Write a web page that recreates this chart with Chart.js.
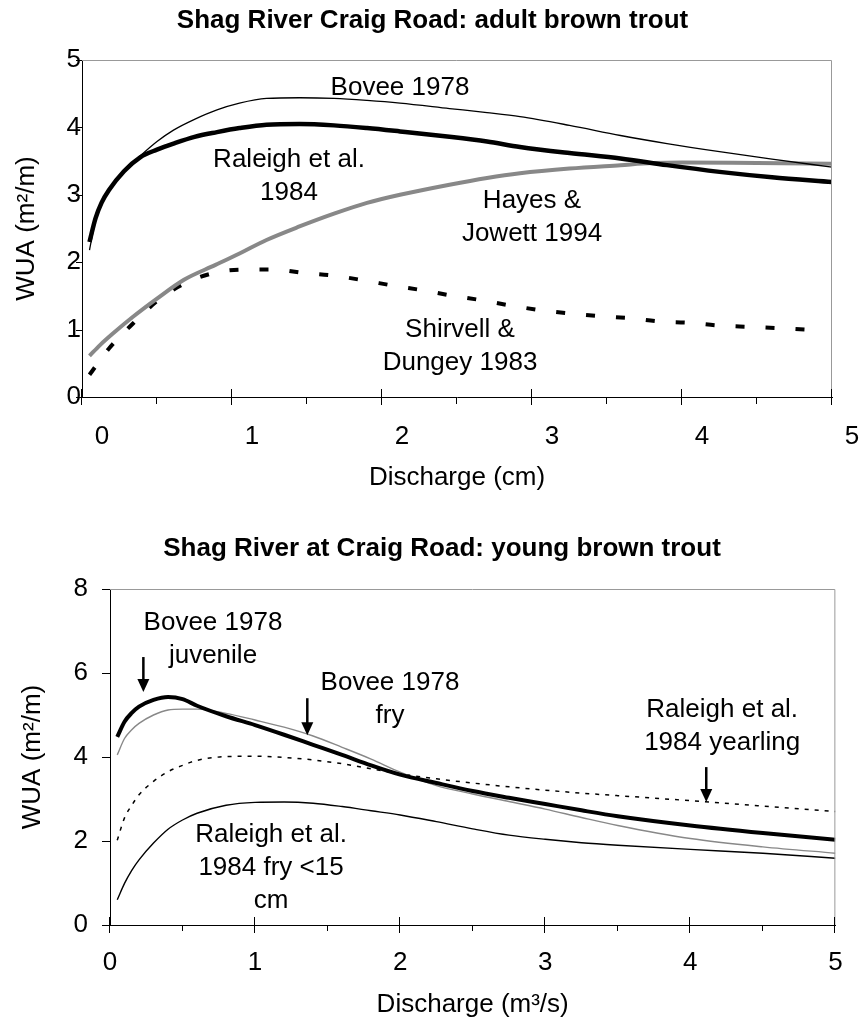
<!DOCTYPE html>
<html>
<head>
<meta charset="utf-8">
<script src="https://cdn.jsdelivr.net/npm/chart.js@4.4.0/dist/chart.umd.min.js"></script>
<style>
  body { margin: 0; background: #fff; }
  .box { position: absolute; left: 0; width: 865px; }
</style>
</head>
<body>
<div class="box" style="top:0;height:510px"><canvas id="adultChart"></canvas></div>
<div class="box" style="top:510px;height:513px"><canvas id="youngChart"></canvas></div>
<script>
// adult brown trout, WUA (m2/m) against discharge
let adultQ = [0.05, 0.09, 0.13, 0.18, 0.28, 0.39, 0.5, 0.61, 0.75, 0.9, 1.05, 1.23, 1.45, 1.68, 1.9, 2.12, 2.45, 2.7, 2.92, 3.25, 3.59, 3.9, 4.25, 4.6, 5.0];
let boveeAdult = [2.18, 2.62, 2.88, 3.07, 3.35, 3.58, 3.79, 3.96, 4.12, 4.26, 4.36, 4.43, 4.44, 4.43, 4.40, 4.36, 4.28, 4.22, 4.16, 4.03, 3.88, 3.76, 3.64, 3.53, 3.41];
let raleighAdult = [2.30, 2.65, 2.88, 3.07, 3.35, 3.56, 3.67, 3.76, 3.86, 3.93, 3.99, 4.04, 4.05, 4.03, 3.99, 3.94, 3.86, 3.79, 3.71, 3.62, 3.54, 3.44, 3.34, 3.26, 3.19];
let hayesQ = [0.05, 0.12, 0.2, 0.34, 0.5, 0.68, 0.89, 1.05, 1.23, 1.45, 1.68, 1.9, 2.12, 2.45, 2.7, 2.92, 3.25, 3.59, 3.8, 4.0, 4.5, 5.0];
let hayesAdult = [0.61, 0.77, 0.93, 1.19, 1.46, 1.74, 1.96, 2.13, 2.33, 2.53, 2.72, 2.88, 3.00, 3.15, 3.25, 3.32, 3.39, 3.44, 3.47, 3.48, 3.47, 3.46];
let shirvellQ = [0.05, 0.18, 0.34, 0.51, 0.68, 0.88, 1.08, 1.28, 1.48, 1.68, 1.88, 2.08, 2.28, 2.45, 2.65, 2.85, 3.05, 3.25, 3.45, 3.65, 3.85, 4.05, 4.25, 4.45, 4.65, 4.9];
let shirvellAdult = [0.33, 0.72, 1.09, 1.44, 1.68, 1.84, 1.89, 1.89, 1.84, 1.80, 1.73, 1.65, 1.58, 1.51, 1.44, 1.36, 1.29, 1.24, 1.20, 1.17, 1.12, 1.10, 1.06, 1.04, 1.02, 0.99];
let adultXTicks = [0, 1, 2, 3, 4, 5];
let adultYTicks = [0, 1, 2, 3, 4, 5];

// young brown trout
let youngQ = [0.05, 0.1, 0.15, 0.2, 0.3, 0.4, 0.5, 0.6, 0.8, 1.0, 1.2, 1.4, 1.6, 1.8, 2.0, 2.25, 2.5, 2.75, 3.0, 3.25, 3.5, 4.0, 4.5, 5.0];
let boveeJuvenile = [4.48, 4.84, 5.05, 5.20, 5.36, 5.43, 5.38, 5.22, 4.97, 4.76, 4.53, 4.29, 4.05, 3.80, 3.58, 3.38, 3.19, 3.03, 2.88, 2.73, 2.59, 2.37, 2.19, 2.03];
let boveeFry = [4.05, 4.44, 4.65, 4.80, 5.00, 5.12, 5.14, 5.14, 5.04, 4.88, 4.71, 4.50, 4.23, 3.95, 3.64, 3.32, 3.12, 2.94, 2.76, 2.56, 2.37, 2.06, 1.86, 1.71];
let raleighYearling = [2.02, 2.55, 2.85, 3.10, 3.42, 3.65, 3.80, 3.92, 4.01, 4.02, 3.99, 3.93, 3.84, 3.72, 3.60, 3.48, 3.38, 3.29, 3.21, 3.14, 3.08, 2.96, 2.83, 2.70];
let raleighFry = [0.60, 0.99, 1.30, 1.55, 1.95, 2.28, 2.50, 2.66, 2.85, 2.92, 2.93, 2.90, 2.82, 2.72, 2.62, 2.46, 2.29, 2.14, 2.04, 1.96, 1.90, 1.80, 1.71, 1.59];
let youngXTicks = [0, 1, 2, 3, 4, 5];
let youngYTicks = [0, 2, 4, 6, 8];

Chart.defaults.font.family = '"Liberation Sans", Arial, sans-serif';
Chart.defaults.font.size = 26;
Chart.defaults.color = '#000';

function pts(xs, ys) {
	return xs.map((x, i) => ({x: x, y: ys[i]}));
}

// gray top/right frame plus the tick marks (major ones cross the x axis)
const frame = {
	id: 'frame',
	afterDraw(chart, args, o) {
		const {ctx, chartArea: a, scales: {x, y}} = chart;
		ctx.save();
		ctx.lineWidth = 1;
		ctx.strokeStyle = '#999';
		ctx.beginPath();
		ctx.moveTo(a.left, a.top + 0.5);
		ctx.lineTo(a.right - 0.5, a.top + 0.5);
		ctx.lineTo(a.right - 0.5, a.bottom);
		ctx.stroke();
		ctx.strokeStyle = '#000';
		ctx.beginPath();
		for (let v = x.min; v <= x.max + 1e-9; v += 0.5) {
			const px = Math.round(x.getPixelForValue(v)) - 0.5;
			const major = Math.abs(v - Math.round(v)) < 1e-9;
			ctx.moveTo(px, a.bottom - (major ? o.majorUp : 0));
			ctx.lineTo(px, a.bottom + (major ? o.majorDown : o.minorDown));
		}
		y.ticks.forEach(t => {
			const py = Math.round(y.getPixelForValue(t.value)) + 0.5;
			ctx.moveTo(a.left - o.yTick, py);
			ctx.lineTo(a.left, py);
		});
		ctx.stroke();
		ctx.restore();
	}
};

// curve names written on the plot, and the arrows
const notes = {
	id: 'notes',
	afterDatasetsDraw(chart, args, o) {
		const {ctx, scales: {x, y}} = chart;
		ctx.save();
		ctx.fillStyle = '#000';
		ctx.strokeStyle = '#000';
		ctx.font = '26px "Liberation Sans", Arial, sans-serif';
		ctx.textAlign = 'center';
		ctx.textBaseline = 'middle';
		o.labels.forEach(l => {
			const px = x.getPixelForValue(l.x), py = y.getPixelForValue(l.y);
			l.lines.forEach((s, i) => ctx.fillText(s, px, py + i * o.lineGap));
		});
		(o.arrows || []).forEach(ar => {
			const px = x.getPixelForValue(ar.x);
			const top = y.getPixelForValue(ar.from), tip = y.getPixelForValue(ar.to);
			ctx.lineWidth = 2.5;
			ctx.beginPath();
			ctx.moveTo(px, top);
			ctx.lineTo(px, tip - 10);
			ctx.stroke();
			ctx.beginPath();
			ctx.moveTo(px - 6, tip - 13);
			ctx.lineTo(px + 6, tip - 13);
			ctx.lineTo(px, tip);
			ctx.closePath();
			ctx.fill();
		});
		ctx.restore();
	}
};

let chart1 = new Chart(document.getElementById('adultChart'), {
	type: 'line',
	data: {
		datasets: [
			{label: 'Bovee 1978', data: pts(adultQ, boveeAdult), borderColor: '#000', borderWidth: 1.3},
			{label: 'Raleigh et al. 1984', data: pts(adultQ, raleighAdult), borderColor: '#000', borderWidth: 4.5},
			{label: 'Hayes & Jowett 1994', data: pts(hayesQ, hayesAdult), borderColor: '#888', borderWidth: 4},
			{label: 'Shirvell & Dungey 1983', data: pts(shirvellQ, shirvellAdult), borderColor: '#000', borderWidth: 4, borderDash: [9, 21]}
		]
	},
	options: {
		responsive: true,
		maintainAspectRatio: false,
		animation: false,
		layout: {padding: {left: 33, right: 33, top: 0, bottom: 0}},
		elements: {
			point: {radius: 0},
			line: {tension: 0.4, cubicInterpolationMode: 'monotone', fill: false}
		},
		plugins: {
			legend: {display: false},
			tooltip: {enabled: false},
			title: {
				display: true,
				text: 'Shag River Craig Road: adult brown trout',
				font: {size: 26, weight: 'bold'},
				color: '#000',
				padding: {top: 5, bottom: 23.8}
			},
			frame: {majorUp: 8, majorDown: 8, minorDown: 7, yTick: 6},
			notes: {
				lineGap: 33,
				labels: [
					{x: 2.12, y: 4.58, lines: ['Bovee 1978']},
					{x: 1.38, y: 3.52, lines: ['Raleigh et al.', '1984']},
					{x: 3.0, y: 2.91, lines: ['Hayes &', 'Jowett 1994']},
					{x: 2.52, y: 0.99, lines: ['Shirvell &', 'Dungey 1983']}
				]
			}
		},
		scales: {
			x: {
				type: 'linear', min: 0, max: 5,
				afterBuildTicks: s => { s.ticks = adultXTicks.map(v => ({value: v})); },
				afterFit: s => { s.height = 113; },
				grid: {display: false, drawTicks: false},
				border: {display: true, color: '#000', width: 1},
				ticks: {padding: 24.4, labelOffset: 20, maxRotation: 0, autoSkip: false},
				title: {display: true, text: 'Discharge (cm)', padding: {top: 0, bottom: 16.4}}
			},
			y: {
				min: 0, max: 5,
				afterBuildTicks: s => { s.ticks = adultYTicks.map(v => ({value: v})); },
				afterFit: s => { s.width = 49; },
				grid: {display: false, drawTicks: false},
				border: {display: true, color: '#000', width: 1},
				ticks: {padding: 1},
				title: {display: true, text: 'WUA (m²/m)', padding: {top: -21.6, bottom: 0}}
			}
		}
	},
	plugins: [frame, notes]
});

let chart2 = new Chart(document.getElementById('youngChart'), {
	type: 'line',
	data: {
		datasets: [
			{label: 'Bovee 1978 juvenile', data: pts(youngQ, boveeJuvenile), borderColor: '#000', borderWidth: 4},
			{label: 'Bovee 1978 fry', data: pts(youngQ, boveeFry), borderColor: '#888', borderWidth: 1.4},
			{label: 'Raleigh et al. 1984 yearling', data: pts(youngQ, raleighYearling), borderColor: '#000', borderWidth: 1.5, borderDash: [4, 6]},
			{label: 'Raleigh et al. 1984 fry <15 cm', data: pts(youngQ, raleighFry), borderColor: '#000', borderWidth: 1.4}
		]
	},
	options: {
		responsive: true,
		maintainAspectRatio: false,
		animation: false,
		layout: {padding: {left: 29, right: 10, top: 0, bottom: 0}},
		elements: {
			point: {radius: 0},
			line: {tension: 0.4, cubicInterpolationMode: 'monotone', fill: false}
		},
		plugins: {
			legend: {display: false},
			tooltip: {enabled: false},
			title: {
				display: true,
				text: 'Shag River at Craig Road: young brown trout',
				font: {size: 26, weight: 'bold'},
				color: '#000',
				padding: {top: 23.4, bottom: 24.4}
			},
			frame: {majorUp: 8, majorDown: 8, minorDown: 6, yTick: 8},
			notes: {
				lineGap: 33,
				labels: [
					{x: 0.71, y: 7.19, lines: ['Bovee 1978', 'juvenile']},
					{x: 1.93, y: 5.76, lines: ['Bovee 1978', 'fry']},
					{x: 4.22, y: 5.12, lines: ['Raleigh et al.', '1984 yearling']},
					{x: 1.11, y: 2.14, lines: ['Raleigh et al.', '1984 fry <15', 'cm']}
				],
				arrows: [
					{x: 0.23, from: 6.38, to: 5.55},
					{x: 1.36, from: 5.40, to: 4.52},
					{x: 4.11, from: 3.76, to: 2.93}
				]
			}
		},
		scales: {
			x: {
				type: 'linear', min: 0, max: 5,
				afterBuildTicks: s => { s.ticks = youngXTicks.map(v => ({value: v})); },
				afterFit: s => { s.height = 98; },
				grid: {display: false, drawTicks: false},
				border: {display: true, color: '#000', width: 1},
				ticks: {padding: 22.4, maxRotation: 0, autoSkip: false},
				title: {display: true, text: 'Discharge (m³/s)', padding: {top: 0, bottom: 2.4}}
			},
			y: {
				min: 0, max: 8,
				afterBuildTicks: s => { s.ticks = youngYTicks.map(v => ({value: v})); },
				afterFit: s => { s.width = 81; },
				grid: {display: false, drawTicks: false},
				border: {display: true, color: '#000', width: 1},
				ticks: {padding: 22},
				title: {display: true, text: 'WUA (m²/m)', padding: {top: -11.6, bottom: 0}}
			}
		}
	},
	plugins: [frame, notes]
});
</script>
</body>
</html>
